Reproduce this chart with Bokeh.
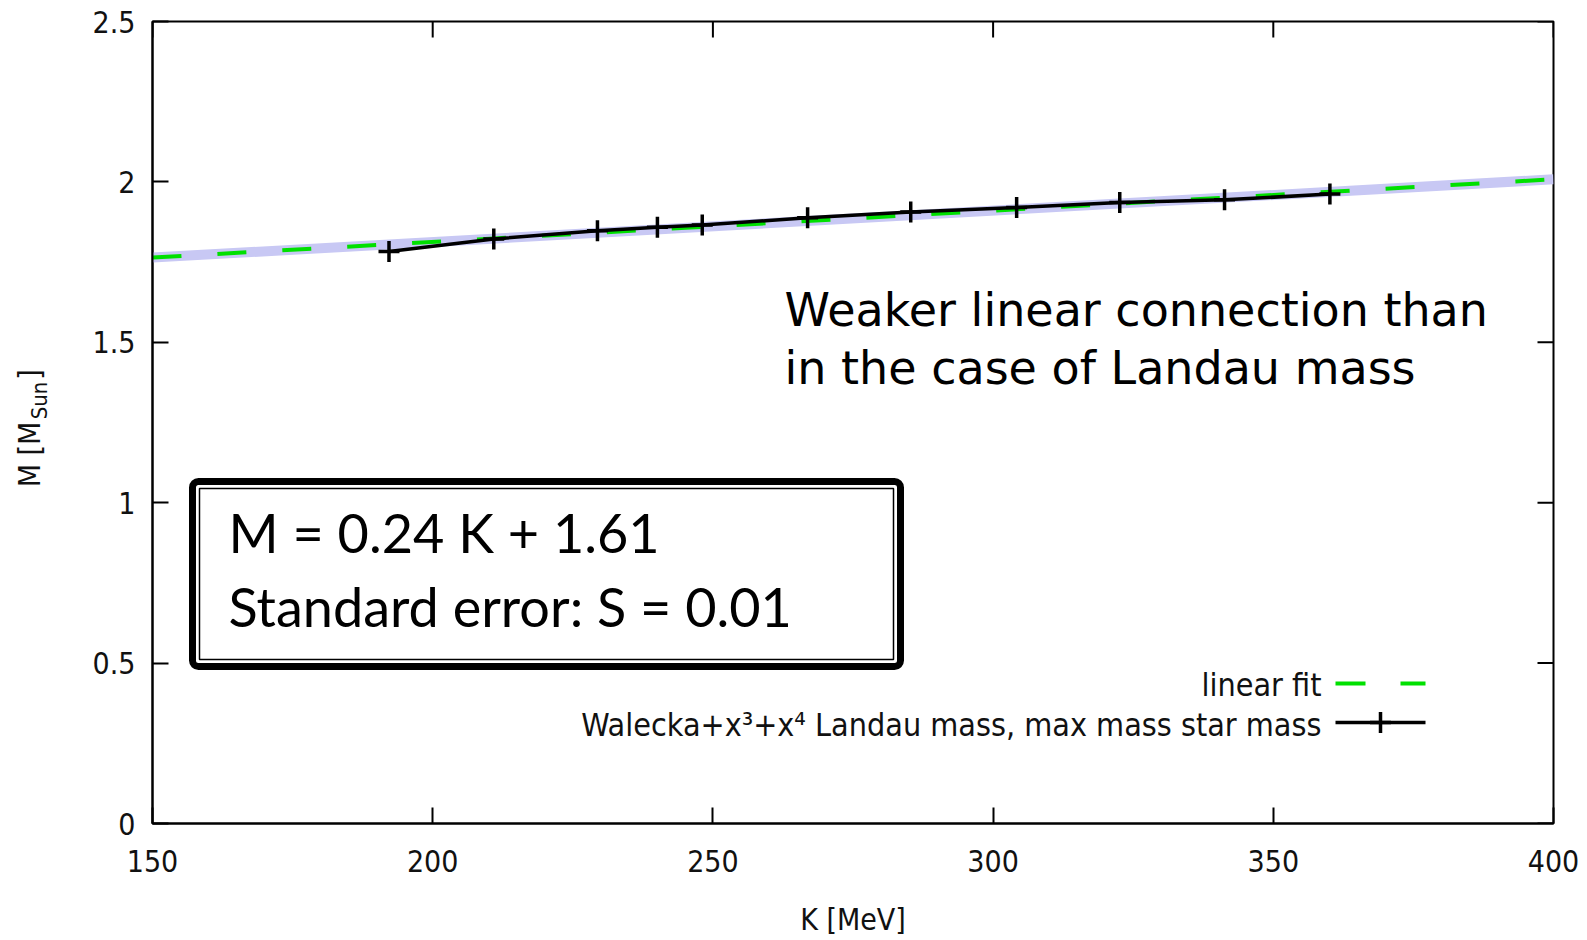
import numpy as np
from bokeh.plotting import figure
from bokeh.layouts import row
from bokeh.models import Range1d, FixedTicker, Label, BoxAnnotation
from bokeh.core.properties import value
from bokeh.embed import file_html
from bokeh.resources import INLINE

# ---- data ----
k_mev = [192.2, 210.9, 229.4, 240.1, 248.1, 266.9, 285.3, 304.2, 322.6, 341.3, 360.1]
m_max = [1.783, 1.822, 1.848, 1.859, 1.866, 1.888, 1.906, 1.920, 1.936, 1.944, 1.962]
fit_k = [150, 400]
fit_m = [1.764, 2.008]
x_ticks = [150, 200, 250, 300, 350, 400]
y_ticks = [0, 0.5, 1, 1.5, 2, 2.5]
fit_label = "linear fit"
series_label = "Walecka+x\u00b3+x\u2074 Landau mass, max mass star mass"
note_lines = ["Weaker linear connection than", "in the case of Landau mass"]
box_lines = ["M = 0.24 K + 1.61", "Standard error: S = 0.01"]
x_title = "K [MeV]"
y_title_parts = ["M [M", "Sun", "]"]

# ---- layout (canvas pixels) ----
W, H = 1587, 940
LW = 60                      # width of the strip holding the y title
FL, FR, FT, FB = 152, 1553, 21, 823
X0, X1, Y0, Y1 = 150, 400, 0, 2.5
TICK = 16

def kx(px):
    return X0 + (px - FL) * (X1 - X0) / (FR - FL)

def my(py):
    return Y0 + (FB - py) * (Y1 - Y0) / (FB - FT)

GN = "'DejaVu Sans Condensed', 'DejaVu Sans', sans-serif"
GN_FONT = value(GN)

p = figure(width=W - LW, height=H, x_range=Range1d(X0, X1), y_range=Range1d(Y0, Y1),
           output_backend="svg", toolbar_location=None,
           min_border_left=FL - LW, min_border_right=W - FR,
           min_border_top=FT, min_border_bottom=H - FB)
p.background_fill_color = "white"
p.border_fill_color = "white"
p.outline_line_color = "black"
p.outline_line_width = 2
p.xgrid.visible = False
p.ygrid.visible = False

for ax, ticks in ((p.xaxis[0], x_ticks), (p.yaxis[0], y_ticks)):
    ax.ticker = FixedTicker(ticks=ticks)
    ax.major_tick_in = TICK
    ax.major_tick_out = 0
    ax.minor_tick_line_color = None
    ax.axis_line_color = "black"
    ax.axis_line_width = 2
    ax.major_tick_line_color = "black"
    ax.major_tick_line_width = 2
    ax.major_label_text_font = GN
    ax.major_label_text_font_size = "30px"
    ax.major_label_text_color = "#111111"

p.xaxis[0].major_label_standoff = 26
p.yaxis[0].major_label_standoff = 17
p.xaxis[0].axis_label = x_title
p.xaxis[0].axis_label_text_font = GN
p.xaxis[0].axis_label_text_font_size = "30px"
p.xaxis[0].axis_label_text_font_style = "normal"
p.xaxis[0].axis_label_text_color = "#111111"
p.xaxis[0].axis_label_standoff = 27

# mirrored ticks on the right and top edges (gnuplot style)
p.segment(x0=[X1] * len(y_ticks), y0=y_ticks, x1=[kx(FR - TICK)] * len(y_ticks), y1=y_ticks,
          line_color="black", line_width=2)
p.segment(x0=x_ticks, y0=[Y1] * len(x_ticks), x1=x_ticks, y1=[my(FT + TICK)] * len(x_ticks),
          line_color="black", line_width=2)

# ---- linear fit: lavender band + green dashes ----
p.line(fit_k, fit_m, line_color="#c8c8f4", line_width=10)
p.line(fit_k, fit_m, line_color="#00e000", line_width=4, line_dash="29 36")

# ---- data series ----
p.line(k_mev, m_max, line_color="black", line_width=3.5)
p.scatter(k_mev, m_max, marker="cross", size=21, line_color="black", line_width=3.5)

# ---- legend (gnuplot style: text right, sample left) ----
p.text(x=[kx(1321)], y=[my(684)], text=[fit_label], text_align="right",
       text_baseline="alphabetic", text_font=GN_FONT, text_font_size="32px", text_color="#111111")
p.text(x=[kx(1321)], y=[my(724)], text=[series_label], text_align="right",
       text_baseline="alphabetic", text_font=GN_FONT, text_font_size="32px", text_color="#111111")
p.line([kx(1335), kx(1425)], [my(683), my(683)], line_color="#00e000", line_width=4, line_dash="30 35")
p.line([kx(1335), kx(1425)], [my(722), my(722)], line_color="black", line_width=3.5)
p.scatter([kx(1380)], [my(722)], marker="cross", size=21, line_color="black", line_width=3.5)

# ---- annotation text ----
for i, line in enumerate(note_lines):
    p.text(x=[kx(784)], y=[my(309 + 58 * i)], text=[line], text_align="left",
           text_baseline="alphabetic", text_font=value("DejaVu Sans"),
           text_font_size="46px", text_color="black")

# ---- framed box with fit result ----
outer = BoxAnnotation(left=kx(192), right=kx(900), top=my(481), bottom=my(666),
                      fill_color="white", fill_alpha=1.0, line_color="black", line_alpha=1.0,
                      line_width=7, border_radius=6)
inner = BoxAnnotation(left=kx(199), right=kx(893), top=my(488), bottom=my(659),
                      fill_color=None, line_color="black", line_alpha=1.0, line_width=1.5)
p.add_layout(outer)
p.add_layout(inner)
for i, line in enumerate(box_lines):
    p.add_layout(Label(x=kx(228), y=my(532 + 74 * i), text=line, text_align="left",
                       text_baseline="alphabetic", text_font="Lato",
                       text_font_size="54px", text_color="black"))

# ---- y axis title strip ----
# In a row, Bokeh aligns this strip's frame with the main frame (FT..FB),
# so its y range is set so that data y == H - canvas pixel y.
t = figure(width=LW, height=H, x_range=Range1d(0, LW), y_range=Range1d(H - FB, H - FT),
           output_backend="svg", toolbar_location=None,
           min_border=0, min_border_left=0, min_border_right=0,
           min_border_top=FT, min_border_bottom=H - FB,
           x_axis_location=None, y_axis_location=None)
t.outline_line_color = None
t.background_fill_color = "white"
t.border_fill_color = "white"
t.grid.visible = False
for txt, cx, cy, fs in ((y_title_parts[0], 29, 454, "30px"),
                        (y_title_parts[1], 39, 400, "22px"),
                        (y_title_parts[2], 29, 374, "30px")):
    t.add_layout(Label(x=cx, y=H - cy, text=txt, angle=np.pi / 2, text_align="center",
                       text_baseline="middle", text_font=GN, text_font_size=fs,
                       text_color="#111111"))

layout = row(t, p)
open("out.html", "w").write(file_html(layout, INLINE))
